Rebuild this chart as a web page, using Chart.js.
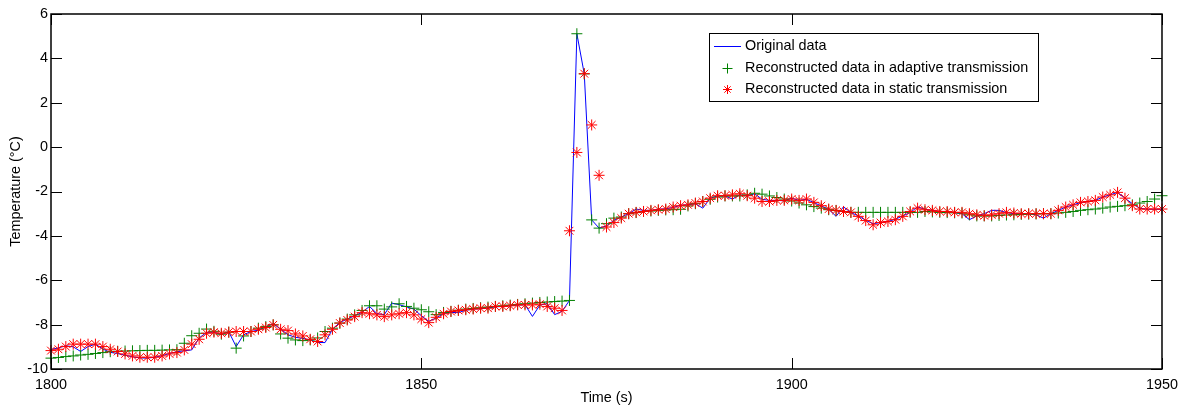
<!DOCTYPE html>
<html>
<head>
<meta charset="utf-8">
<title>Temperature reconstruction</title>
<script src="https://cdn.jsdelivr.net/npm/chart.js@4.4.0/dist/chart.umd.min.js"></script>
<style>
  html, body { margin: 0; padding: 0; background: #fff; }
  #wrap { width: 1185px; height: 409px; }
</style>
</head>
<body>
<div id="wrap"><canvas id="chart" width="1185" height="409"></canvas></div>
<script>
// ---- data: one sample per second, starting at t = 1800 s ----
const startTime = 1800;

const original = [
  -9.12, -9.05, -8.95, -9.00, -9.21, -8.99, -8.88, -9.10, -9.25, -9.30,
  -9.38, -9.45, -9.50, -9.51, -9.47, -9.40, -9.30, -9.22, -9.18, -9.14,
  -8.60, -8.35, -8.34, -8.45, -8.32, -8.99, -8.46, -8.31, -8.25, -8.10,
  -7.96, -8.20, -8.46, -8.57, -8.62, -8.69, -8.80, -8.81, -8.21, -7.90,
  -7.75, -7.60, -7.45, -7.18, -7.50, -7.55, -7.03, -7.10, -7.20, -7.30,
  -7.60, -7.85, -7.70, -7.50, -7.45, -7.46, -7.35, -7.30, -7.28, -7.25,
  -7.20, -7.18, -7.15, -7.12, -7.10, -7.63, -7.12, -7.05, -7.55, -7.40,
  -6.91, 5.11, 3.30, -3.28, -3.65, -3.55, -3.30, -3.15, -3.00, -2.79,
  -2.85, -2.85, -2.80, -2.78, -2.72, -2.62, -2.60, -2.55, -2.75, -2.30,
  -2.20, -2.20, -2.34, -2.15, -2.20, -2.10, -2.35, -2.40, -2.40, -2.42,
  -2.30, -2.40, -2.35, -2.50, -2.65, -2.80, -3.12, -2.69, -2.95, -3.10,
  -3.30, -3.45, -3.40, -3.35, -3.25, -3.10, -2.95, -2.69, -2.80, -2.85,
  -2.90, -2.90, -2.95, -3.00, -3.27, -3.10, -3.00, -2.85, -2.85, -2.95,
  -3.00, -3.00, -3.00, -3.05, -3.20, -3.00, -2.85, -2.70, -2.60, -2.50,
  -2.45, -2.40, -2.25, -2.15, -2.04, -2.30, -2.55, -2.75, -2.80, -2.80,
  -2.80
];

const adaptive = [
  -9.51, -9.48, -9.44, -9.41, -9.37, -9.34, -9.30, -9.26, -9.22, -9.20,
  -9.19, -9.18, -9.17, -9.16, -9.16, -9.15, -9.14, -9.13, -8.84, -8.50,
  -8.39, -8.20, -8.30, -8.43, -8.34, -9.06, -8.51, -8.31, -8.16, -8.09,
  -8.01, -8.42, -8.61, -8.69, -8.72, -8.69, -8.60, -8.31, -8.16, -7.93,
  -7.75, -7.56, -7.36, -7.15, -7.15, -7.30, -7.20, -7.06, -7.18, -7.26,
  -7.33, -7.42, -7.55, -7.45, -7.40, -7.35, -7.30, -7.27, -7.24, -7.21,
  -7.18, -7.15, -7.12, -7.09, -7.06, -7.03, -7.00, -6.98, -6.96, -6.94,
  -6.91, 5.11, 3.30, -3.28, -3.65, -3.45, -3.20, -3.15, -3.00, -2.95,
  -2.90, -2.88, -2.85, -2.83, -2.82, -2.80, -2.65, -2.55, -2.45, -2.35,
  -2.25, -2.20, -2.20, -2.20, -2.15, -2.08, -2.12, -2.20, -2.27, -2.34,
  -2.43, -2.52, -2.60, -2.68, -2.75, -2.82, -2.86, -2.90, -2.94, -2.94,
  -2.94, -2.94, -2.94, -2.94, -2.94, -2.94, -2.94, -2.94, -2.90, -2.92,
  -2.94, -2.95, -2.96, -2.97, -3.05, -3.10, -3.10, -3.10, -3.08, -3.06,
  -3.05, -3.03, -3.02, -3.01, -3.00, -3.00, -2.97, -2.94, -2.90, -2.85,
  -2.82, -2.79, -2.75, -2.70, -2.67, -2.64, -2.60, -2.52, -2.45, -2.34,
  -2.19
];

const staticTx = [
  -9.17, -9.11, -8.99, -8.88, -8.88, -8.88, -8.88, -8.99, -9.11, -9.21,
  -9.32, -9.41, -9.47, -9.47, -9.47, -9.41, -9.32, -9.26, -9.14, -8.88,
  -8.66, -8.39, -8.34, -8.39, -8.34, -8.31, -8.31, -8.31, -8.21, -8.13,
  -8.01, -8.21, -8.27, -8.42, -8.51, -8.66, -8.76, -8.46, -8.21, -7.93,
  -7.79, -7.64, -7.46, -7.51, -7.56, -7.64, -7.56, -7.51, -7.46, -7.56,
  -7.75, -7.91, -7.67, -7.51, -7.41, -7.36, -7.33, -7.30, -7.26, -7.26,
  -7.18, -7.18, -7.15, -7.11, -7.11, -7.11, -7.08, -7.18, -7.26, -7.36,
  -3.77, -0.24, 3.31, 1.00, -1.27, -3.60, -3.40, -3.20, -3.00, -2.94,
  -2.90, -2.85, -2.82, -2.79, -2.70, -2.64, -2.60, -2.52, -2.45, -2.30,
  -2.19, -2.19, -2.15, -2.10, -2.19, -2.30, -2.45, -2.45, -2.40, -2.40,
  -2.34, -2.40, -2.34, -2.49, -2.64, -2.79, -2.85, -2.90, -2.94, -3.12,
  -3.31, -3.50, -3.40, -3.35, -3.27, -3.12, -2.90, -2.75, -2.82, -2.85,
  -2.90, -2.90, -2.94, -2.94, -3.00, -3.05, -3.09, -3.05, -3.00, -2.94,
  -2.97, -3.00, -3.00, -3.00, -3.00, -3.00, -2.85, -2.70, -2.60, -2.49,
  -2.45, -2.40, -2.25, -2.15, -2.04, -2.30, -2.64, -2.79, -2.79, -2.79,
  -2.79
];

const xTicks = [1800, 1850, 1900, 1950];
const yTicks = [-10, -8, -6, -4, -2, 0, 2, 4, 6];
const seriesNames = [
  'Original data',
  'Reconstructed data in adaptive transmission',
  'Reconstructed data in static transmission'
];

const toPoints = arr => arr.map((v, i) => ({ x: startTime + i, y: v }));

const FONT = '"Liberation Sans", Arial, Helvetica, sans-serif';
const FONT_SIZE = 14.4;
Chart.defaults.font.family = FONT;
Chart.defaults.font.size = FONT_SIZE;
Chart.defaults.color = '#000';

// MATLAB-ish axes box with inward ticks + legend box inside the plot
const matlabFrame = {
  id: 'matlabFrame',
  afterDraw(chart) {
    const { ctx, chartArea: a, scales: { x, y } } = chart;
    const tickLen = 11;
    ctx.save();
    ctx.strokeStyle = '#000';
    ctx.lineWidth = 1;
    ctx.beginPath();
    yTicks.forEach(v => {
      const py = Math.round(y.getPixelForValue(v)) + 0.5;
      ctx.moveTo(a.left, py); ctx.lineTo(a.left + tickLen, py);
      ctx.moveTo(a.right, py); ctx.lineTo(a.right - tickLen, py);
    });
    xTicks.forEach(v => {
      const px = Math.round(x.getPixelForValue(v)) + 0.5;
      ctx.moveTo(px, a.bottom); ctx.lineTo(px, a.bottom - tickLen);
      ctx.moveTo(px, a.top); ctx.lineTo(px, a.top + tickLen);
    });
    ctx.stroke();
    ctx.lineWidth = 1.5;
    ctx.strokeRect(a.left, a.top, a.right - a.left, a.bottom - a.top);

    // legend
    ctx.lineWidth = 1;
    const bx = 709.5, by = 33.5, bw = 329, bh = 68;
    ctx.fillStyle = '#fff';
    ctx.fillRect(bx, by, bw, bh);
    ctx.strokeRect(bx, by, bw, bh);
    const rows = [46, 68, 89];
    const mx = 727.5;
    ctx.font = FONT_SIZE + 'px ' + FONT;
    ctx.textBaseline = 'middle';
    ctx.textAlign = 'left';
    ctx.fillStyle = '#000';
    rows.forEach((ry, i) => ctx.fillText(seriesNames[i], 745, ry));

    ctx.beginPath();
    ctx.strokeStyle = '#0000ff';
    ctx.moveTo(714, rows[0] + 0.5); ctx.lineTo(741, rows[0] + 0.5);
    ctx.stroke();

    ctx.beginPath();
    ctx.strokeStyle = '#008000';
    ctx.moveTo(mx - 5, rows[1] + 0.5); ctx.lineTo(mx + 5, rows[1] + 0.5);
    ctx.moveTo(mx, rows[1] - 4.5); ctx.lineTo(mx, rows[1] + 5.5);
    ctx.stroke();

    ctx.beginPath();
    ctx.strokeStyle = '#ff0000';
    const r = 4.5, d = r * Math.SQRT1_2, cy = rows[2] + 0.5;
    ctx.moveTo(mx - r, cy); ctx.lineTo(mx + r, cy);
    ctx.moveTo(mx, cy - r); ctx.lineTo(mx, cy + r);
    ctx.moveTo(mx - d, cy - d); ctx.lineTo(mx + d, cy + d);
    ctx.moveTo(mx - d, cy + d); ctx.lineTo(mx + d, cy - d);
    ctx.stroke();
    ctx.restore();
  }
};

new Chart(document.getElementById('chart'), {
  type: 'line',
  data: {
    datasets: [
      {
        label: seriesNames[0],
        data: toPoints(original),
        borderColor: '#0000ff',
        borderWidth: 1,
        pointRadius: 0,
        tension: 0,
        order: 3
      },
      {
        label: seriesNames[1],
        data: toPoints(adaptive),
        showLine: false,
        pointStyle: 'cross',
        pointRadius: 5.5,
        pointBorderWidth: 1,
        pointBorderColor: '#008000',
        borderColor: '#008000',
        clip: false,
        order: 2
      },
      {
        label: seriesNames[2],
        data: toPoints(staticTx),
        showLine: false,
        pointStyle: 'star',
        pointRadius: 5.5,
        pointBorderWidth: 1,
        pointBorderColor: '#ff0000',
        borderColor: '#ff0000',
        clip: false,
        order: 1
      }
    ]
  },
  options: {
    responsive: false,
    animation: false,
    devicePixelRatio: 1,
    layout: { padding: { top: 14, right: 21, left: 0, bottom: 0 } },
    plugins: {
      legend: { display: false },
      tooltip: { enabled: false }
    },
    scales: {
      x: {
        type: 'linear',
        min: 1800,
        max: 1950,
        grid: { display: false, drawTicks: false },
        border: { display: false },
        ticks: { stepSize: 50, padding: 7, maxRotation: 0, callback: v => String(v) },
        title: { display: true, text: 'Time (s)', padding: { top: 0, bottom: 2 } },
        afterFit(scale) { scale.height = 40; }
      },
      y: {
        min: -10,
        max: 6,
        grid: { display: false, drawTicks: false },
        border: { display: false },
        ticks: { stepSize: 2, padding: 3 },
        title: { display: true, text: 'Temperature (°C)', padding: { top: 7, bottom: 0 } },
        afterFit(scale) { scale.width = 51; }
      }
    }
  },
  plugins: [matlabFrame]
});
</script>
</body>
</html>
